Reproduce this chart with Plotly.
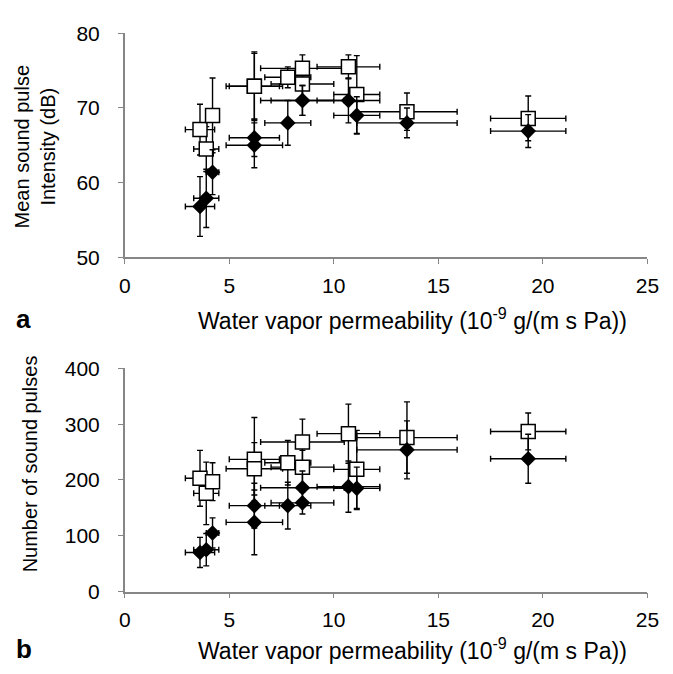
import plotly.graph_objects as go

# Water vapor permeability (10^-9 g/(m s Pa)) for each material
perm = [3.6, 3.9, 4.2, 6.2, 6.2, 7.8, 8.5, 8.5, 10.7, 11.1, 13.5, 19.3]
perm_err = [0.7, 0.6, 0.3, 1.2, 1.35, 1.1, 2.0, 1.5, 1.5, 1.1, 2.4, 1.8]

# Panel a: mean sound pulse intensity (dB)
int_open = [67.1, 64.5, 69.0, 72.9, 72.9, 74.1, 75.3, 73.2, 75.5, 71.8, 69.5, 68.6]
int_open_err = [3.4, 3.0, 5.0, 4.6, 4.4, 1.4, 1.8, 2.0, 1.6, 5.2, 2.5, 3.0]
int_fill = [56.8, 57.9, 61.4, 66.0, 65.0, 68.0, 71.0, 71.0, 71.0, 69.0, 68.0, 66.9]
int_fill_err = [4.0, 3.9, 3.0, 2.5, 3.0, 3.0, 2.0, 2.0, 3.0, 2.5, 2.0, 2.2]

# Panel b: number of sound pulses
num_open = [203, 176, 197, 237, 220, 231, 268, 223, 283, 219, 276, 287]
num_open_err = [50, 56, 34, 75, 47, 40, 41, 30, 53, 70, 64, 33]
num_fill = [70, 75, 105, 154, 124, 154, 186, 159, 188, 185, 254, 238]
num_fill_err = [27, 29, 27, 40, 58, 42, 30, 20, 46, 38, 52, 44]

W, H = 673, 674
FONT = "Liberation Sans, Arial, sans-serif"


def err(arr):
    return dict(type="data", array=arr, visible=True, color="black", thickness=1.4, width=3)


def open_trace(y, yerr, xa, ya):
    return go.Scatter(x=perm, y=y, mode="markers", xaxis=xa, yaxis=ya,
                      marker=dict(symbol="square", size=14, color="white",
                                  line=dict(color="black", width=1.5)),
                      error_x=err(perm_err), error_y=err(yerr), showlegend=False)


def fill_trace(y, yerr, xa, ya):
    return go.Scatter(x=perm, y=y, mode="markers", xaxis=xa, yaxis=ya,
                      marker=dict(symbol="diamond", size=12, color="black",
                                  line=dict(color="black", width=0)),
                      error_x=err(perm_err), error_y=err(yerr), showlegend=False)


fig = go.Figure([
    open_trace(int_open, int_open_err, "x", "y"),
    fill_trace(int_fill, int_fill_err, "x", "y"),
    open_trace(num_open, num_open_err, "x2", "y2"),
    fill_trace(num_fill, num_fill_err, "x2", "y2"),
])

xdom = [122 / W, 659 / W]
ydom_a = [1 - 254 / H, 1 - 22 / H]
ydom_b = [1 - 600 / H, 1 - 369 / H]

axis_common = dict(showline=True, linecolor="#868686", linewidth=1.5, ticks="outside",
                   ticklen=5, tickcolor="#868686", tickwidth=1, showgrid=False,
                   zeroline=False, tickfont=dict(family=FONT, size=21, color="black"))

fig.update_layout(
    width=W, height=H, margin=dict(l=0, r=0, t=0, b=0),
    paper_bgcolor="white", plot_bgcolor="white",
    xaxis=dict(domain=xdom, range=[0, 25], dtick=5, anchor="y", ticklabelstandoff=4, **axis_common),
    yaxis=dict(domain=ydom_a, range=[50, 80], dtick=10, anchor="x", ticklabelstandoff=14, **axis_common),
    xaxis2=dict(domain=xdom, range=[0, 25], dtick=5, anchor="y2", ticklabelstandoff=4, **axis_common),
    yaxis2=dict(domain=ydom_b, range=[0, 400], dtick=100, anchor="x2", ticklabelstandoff=14, **axis_common),
)

xtitle = "Water vapor permeability (10<sup>-9</sup> g/(m s Pa))"
tf = dict(family=FONT, size=20, color="black")
xtf = dict(family=FONT, size=23, color="black")
ann = [
    dict(text=xtitle, x=418 / W, y=1 - 318 / H, xanchor="center", yanchor="middle", font=xtf),
    dict(text=xtitle, x=418 / W, y=1 - 660 / H, xanchor="center", yanchor="middle", font=xtf),
    dict(text="Mean sound pulse<br>Intensity (dB)", x=30 / W, y=1 - 140 / H, textangle=-90,
         xanchor="center", yanchor="middle", font=tf),
    dict(text="Number of sound pulses", x=25 / W, y=1 - 468 / H, textangle=-90,
         xanchor="center", yanchor="middle", font=tf),
    dict(text="<b>a</b>", x=18 / W, y=1 - 318 / H, xanchor="center", yanchor="middle",
         font=dict(family=FONT, size=26, color="black")),
    dict(text="<b>b</b>", x=18 / W, y=1 - 660 / H, xanchor="center", yanchor="middle",
         font=dict(family=FONT, size=26, color="black")),
]
for a in ann:
    a.update(xref="paper", yref="paper", showarrow=False)
fig.update_layout(annotations=ann)

fig.write_html("out.html")
